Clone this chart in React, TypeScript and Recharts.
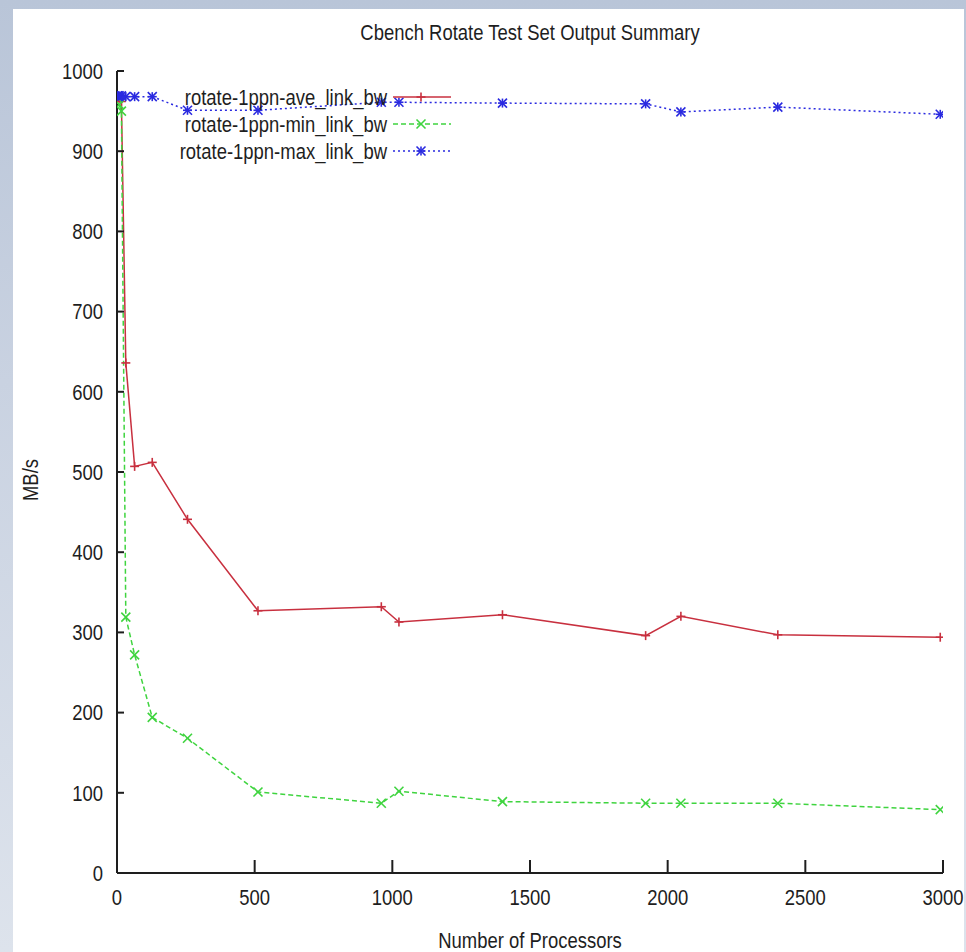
import { LineChart, Line, XAxis, YAxis, Legend, Label } from 'recharts'

// processor counts and measured link bandwidth (MB/s)
const procs = [2, 4, 8, 16, 32, 64, 128, 256, 512, 960, 1024, 1400, 1920, 2048, 2400, 2990]
const aveBw = [968, 967, 966, 962, 636, 507, 512, 441, 327, 332, 313, 322, 296, 320, 297, 294]
const minBw = [967, 966, 958, 950, 319, 272, 194, 168, 101, 87, 102, 89, 87, 87, 87, 79]
const maxBw = [969, 969, 969, 969, 968, 968, 968, 951, 951, 961, 961, 960, 959, 949, 955, 946]

const xTicks = [0, 500, 1000, 1500, 2000, 2500, 3000]
const yTicks = [0, 100, 200, 300, 400, 500, 600, 700, 800, 900, 1000]

const titulo = 'Cbench Rotate Test Set Output Summary'
const xTitulo = 'Number of Processors'
const yTitulo = 'MB/s'

const data = procs.map((n, i) => ({ n, ave: aveBw[i], min: minBw[i], max: maxBw[i] }))

const FONTE = '"Liberation Sans", Arial, Helvetica, sans-serif'
const TINTA = '#1e1e1e'
const ESTREITO = 0.84 // gnuplot text is narrow, squeeze it horizontally

type Marca = 'plus' | 'cross' | 'star'

const series: { key: 'ave' | 'min' | 'max'; name: string; color: string; dash?: string; marca: Marca }[] = [
  { key: 'ave', name: 'rotate-1ppn-ave_link_bw', color: '#c8303f', marca: 'plus' },
  { key: 'min', name: 'rotate-1ppn-min_link_bw', color: '#3fd43f', dash: '5 3', marca: 'cross' },
  { key: 'max', name: 'rotate-1ppn-max_link_bw', color: '#2a2ae0', dash: '2 3', marca: 'star' },
]

function Texto({ x, y, anchor = 'middle', rot = 0, dy = '0.35em', children }: any) {
  return (
    <text
      transform={`translate(${x},${y}) rotate(${rot}) scale(${ESTREITO},1)`}
      textAnchor={anchor}
      dy={dy}
      fontSize={22}
      fontFamily={FONTE}
      fill={TINTA}
    >
      {children}
    </text>
  )
}

// gnuplot style point markers
function Ponto({ cx, cy, color, marca }: { cx: number; cy: number; color: string; marca: Marca }) {
  if (cx == null || cy == null) return null
  const r = 4.5
  const plus = (
    <>
      <line x1={cx - r} x2={cx + r} y1={cy} y2={cy} />
      <line x1={cx} x2={cx} y1={cy - r} y2={cy + r} />
    </>
  )
  const cross = (
    <>
      <line x1={cx - r} x2={cx + r} y1={cy - r} y2={cy + r} />
      <line x1={cx - r} x2={cx + r} y1={cy + r} y2={cy - r} />
    </>
  )
  return (
    <g stroke={color} strokeWidth={1.6} fill="none">
      {marca !== 'cross' && plus}
      {marca !== 'plus' && cross}
    </g>
  )
}

function Chave() {
  return (
    <svg width={300} height={80} style={{ display: 'block', overflow: 'visible' }}>
      {series.map((s, i) => {
        const y = 12 + i * 27
        return (
          <g key={s.key}>
            <Texto x={217} y={y} anchor="end">
              {s.name}
            </Texto>
            <line x1={223} x2={281} y1={y} y2={y} stroke={s.color} strokeWidth={1.5} strokeDasharray={s.dash} />
            <Ponto cx={251} cy={y} color={s.color} marca={s.marca} />
          </g>
        )
      })}
    </svg>
  )
}

export default function App() {
  return (
    <div
      style={{
        position: 'absolute',
        left: 0,
        top: 0,
        width: 966,
        height: 952,
        background: 'linear-gradient(180deg, #b9c5d8 0%, #c9d2e1 40%, #dde3ec 100%)',
        overflow: 'hidden',
      }}
    >
      <div style={{ position: 'absolute', left: 13, top: 9, width: 951, height: 943, background: '#fff' }} />
      <svg width={966} height={60} style={{ position: 'absolute', left: 0, top: 0 }}>
        <Texto x={530} y={32}>
          {titulo}
        </Texto>
      </svg>
      <div style={{ position: 'absolute', left: 0, top: 0 }}>
        <LineChart width={966} height={952} data={data} margin={{ top: 71, right: 23, bottom: 19, left: 37 }}>
          <XAxis
            dataKey="n"
            type="number"
            domain={[0, 3000]}
            ticks={xTicks}
            allowDataOverflow
            height={60}
            tickSize={-13}
            tickMargin={37}
            stroke={TINTA}
            strokeWidth={2}
            tick={(p: any) => (
              <Texto key={p.index} x={p.x} y={p.y}>
                {p.payload.value}
              </Texto>
            )}
          >
            <Label
              position="center"
              content={(p: any) => (
                <Texto x={p.viewBox.x + p.viewBox.width / 2} y={940}>
                  {xTitulo}
                </Texto>
              )}
            />
          </XAxis>
          <XAxis
            xAxisId="top"
            dataKey="n"
            orientation="top"
            type="number"
            domain={[0, 3000]}
            ticks={xTicks}
            allowDataOverflow
            height={0}
            tickSize={-13}
            tick={false}
            stroke={TINTA}
            strokeWidth={2}
          />
          <YAxis
            type="number"
            domain={[0, 1000]}
            ticks={yTicks}
            allowDataOverflow
            width={80}
            tickSize={-7}
            tickMargin={21}
            stroke={TINTA}
            strokeWidth={2}
            tick={(p: any) => (
              <Texto key={p.index} x={p.x} y={p.y} anchor="end">
                {p.payload.value}
              </Texto>
            )}
          >
            <Label
              position="center"
              content={(p: any) => (
                <Texto x={30} y={p.viewBox.y + p.viewBox.height / 2 + 8} rot={-90}>
                  {yTitulo}
                </Texto>
              )}
            />
          </YAxis>
          <YAxis
            yAxisId="right"
            orientation="right"
            type="number"
            domain={[0, 1000]}
            ticks={yTicks}
            allowDataOverflow
            width={0}
            tickSize={-7}
            tick={false}
            stroke={TINTA}
            strokeWidth={2}
          />
          <Legend
            layout="horizontal"
            verticalAlign="middle"
            align="center"
            content={() => <Chave />}
            wrapperStyle={{ position: 'absolute', left: 170, top: 85, width: 300, height: 80 }}
          />
          {series.map((s) => (
            <Line
              key={s.key}
              dataKey={s.key}
              name={s.name}
              type="linear"
              stroke={s.color}
              strokeWidth={1.5}
              strokeDasharray={s.dash}
              isAnimationActive={false}
              activeDot={false}
              dot={(p: any) => <Ponto key={`${s.key}-${p.index}`} cx={p.cx} cy={p.cy} color={s.color} marca={s.marca} />}
            />
          ))}
        </LineChart>
      </div>
    </div>
  )
}
